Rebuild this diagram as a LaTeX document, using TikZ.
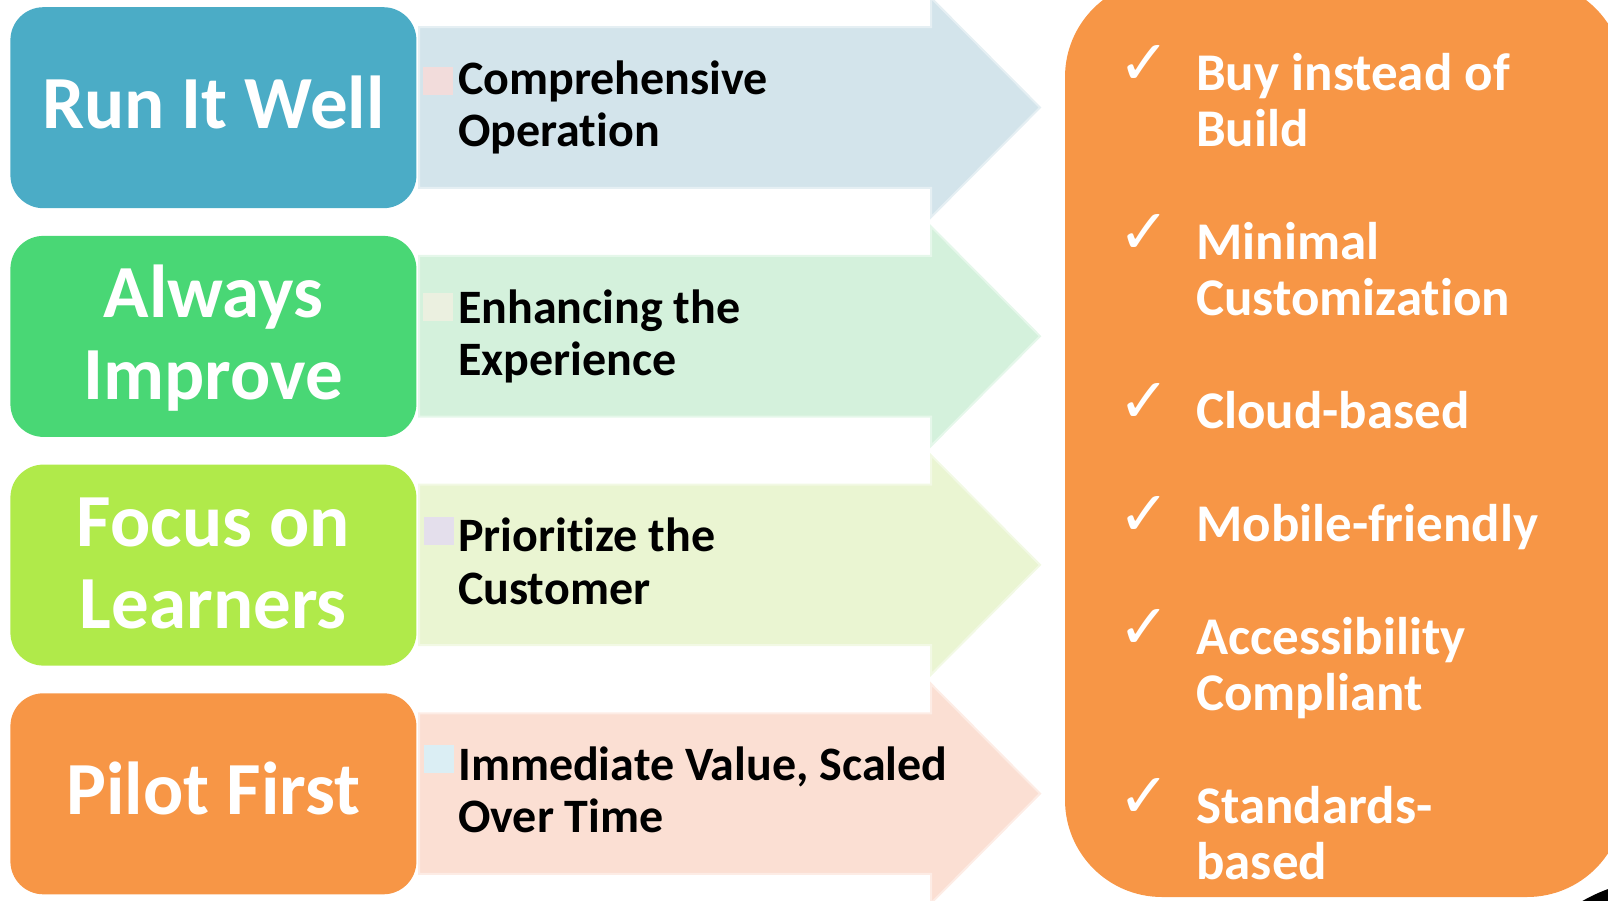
\documentclass[tikz,border=0pt]{standalone}
\usepackage{fontspec}
\setmainfont{Carlito}[Ligatures=NoCommon]
\newfontfamily\checkfont{DejaVu Sans}

% box colours
\definecolor{boxBlue}{HTML}{4BACC6}
\definecolor{boxGreen}{HTML}{49D775}
\definecolor{boxLime}{HTML}{B0EA4A}
\definecolor{boxOrange}{HTML}{F79646}
% arrow colours
\definecolor{arrBlue}{HTML}{D3E4EB}
\definecolor{arrGreen}{HTML}{D4F1DC}
\definecolor{arrLime}{HTML}{EAF5D2}
\definecolor{arrPeach}{HTML}{FBDFD3}
% small marker squares
\definecolor{sqPink}{HTML}{F2DCDB}
\definecolor{sqPale}{HTML}{EBF0E0}
\definecolor{sqLav}{HTML}{E4DFEC}
\definecolor{sqCyan}{HTML}{DBEEF4}

\begin{document}
\begin{tikzpicture}[x=1pt,y=-1pt,
  pillar/.style={rounded corners=33pt, minimum width=406pt, minimum height=201pt, inner sep=0pt, draw=none},
  pillartext/.style={anchor=base, inner sep=0pt, text=white, font=\bfseries\fontsize{75}{82}\selectfont},
  arrowtext/.style={anchor=base west, inner sep=0pt, text=black, font=\bfseries\fontsize{48}{52.3}\selectfont},
  itemtext/.style={anchor=base west, inner sep=0pt, text=white, font=\bfseries\fontsize{53}{56.4}\selectfont},
  checkmark/.style={anchor=base west, inner sep=0pt, text=white, font=\checkfont\fontsize{62}{62}\selectfont},
]
\useasboundingbox (0,0) rectangle (1608,901);
\clip (0,0) rectangle (1608,901);

% block arrows
\foreach \k/\col in {0/arrBlue,1/arrGreen,2/arrLime,3/arrPeach}{
  \pgfmathsetmacro\c{107.5+228.7*\k}
  \filldraw[fill=\col, draw=\col!60!white, line width=2pt, line join=miter]
    (419,{\c-80.3}) -- (931,{\c-80.3}) -- (931,{\c-109.7}) -- (1040,{\c})
    -- (931,{\c+109.7}) -- (931,{\c+80.3}) -- (419,{\c+80.3}) -- cycle;
}

% marker squares
\fill[sqPink] (423,66.7) rectangle (453,95);
\fill[sqPale] (423,292.7) rectangle (453,320.7);
\fill[sqLav]  (424,516.7) rectangle (454,545);
\fill[sqCyan] (424,745) rectangle (454,772.7);

% arrow captions
\node[arrowtext] (a1) at (458,94.3) {\parbox[t]{520pt}{\raggedright Comprehensive\\Operation}};
\node[arrowtext] (a2) at (458,323) {\parbox[t]{520pt}{\raggedright Enhancing the\\Experience}};
\node[arrowtext] (a3) at (458,551.7) {\parbox[t]{520pt}{\raggedright Prioritize the\\Customer}};
\node[arrowtext] (a4) at (458,780.4) {\parbox[t]{520pt}{\raggedright Immediate Value, Scaled\\Over Time}};

% pillar boxes
\node[pillar, fill=boxBlue]   (p1) at (213.4,107.7) {};
\node[pillar, fill=boxGreen]  (p2) at (213.4,336.4) {};
\node[pillar, fill=boxLime]   (p3) at (213.4,565.1) {};
\node[pillar, fill=boxOrange] (p4) at (213.4,793.8) {};

\node[pillartext] (t1) at (213.4,128.3) {Run It Well};
\node[pillartext] (t2) at (213.4,317) {\parbox[t]{400pt}{\centering Always\\Improve}};
\node[pillartext] (t3) at (213.4,546) {\parbox[t]{400pt}{\centering Focus on\\Learners}};
\node[pillartext] (t4) at (213.4,814.5) {Pilot First};

% seal fragment in the corner
\fill[black] (1665,1045) circle[radius=166];
\fill[white] (1665,1045) circle[radius=152];

% right-hand panel
\fill[boxOrange, rounded corners=97pt] (1065,-20) rectangle (1624,897);

\foreach \n/\b in {1/90.2,2/259.4,3/428.6,4/541.4,5/654.2,6/823.4}{
  \node[checkmark] (c\n) at (1118,{\b-6}) {✓};
}
\node[itemtext] (r1) at (1196,90.2)  {\parbox[t]{420pt}{\raggedright Buy instead of\\Build}};
\node[itemtext] (r2) at (1196,259.4) {\parbox[t]{420pt}{\raggedright Minimal\\Customization}};
\node[itemtext] (r3) at (1196,428.6) {Cloud-based};
\node[itemtext] (r4) at (1196,541.4) {Mobile-friendly};
\node[itemtext] (r5) at (1196,654.2) {\parbox[t]{420pt}{\raggedright Accessibility\\Compliant}};
\node[itemtext] (r6) at (1196,823.4) {\parbox[t]{420pt}{\raggedright Standards-\\based}};
\end{tikzpicture}
\end{document}
